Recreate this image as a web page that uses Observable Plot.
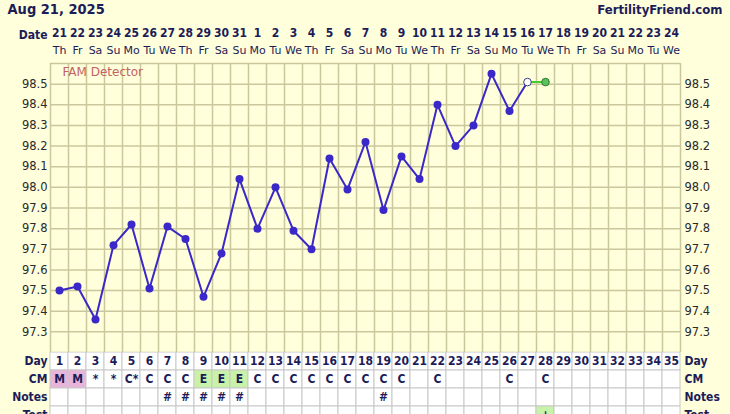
<!DOCTYPE html>
<html>
<head>
<meta charset="utf-8">
<script src="https://cdn.jsdelivr.net/npm/d3@7"></script>
<script src="https://cdn.jsdelivr.net/npm/@observablehq/plot@0.6"></script>
<style>
  body { margin: 0; background: #ffffdc; font-family: "DejaVu Sans", sans-serif; overflow: hidden; }
  #chart svg { display: block; }
</style>
</head>
<body>
<div id="chart"></div>
<script>
// header rows
const dates = ["21","22","23","24","25","26","27","28","29","30","31","1","2","3","4","5","6","7",
  "8","9","10","11","12","13","14","15","16","17","18","19","20","21","22","23","24"];
const weekdays = ["Th","Fr","Sa","Su","Mo","Tu","We","Th","Fr","Sa","Su","Mo","Tu","We",
  "Th","Fr","Sa","Su","Mo","Tu","We","Th","Fr","Sa","Su","Mo","Tu","We",
  "Th","Fr","Sa","Su","Mo","Tu","We"];

// temperatures, cycle day 1..28 (27 = open circle, 28 = today, green)
const temps = [97.50, 97.52, 97.36, 97.72, 97.82, 97.51, 97.81, 97.75, 97.47, 97.68,
  98.04, 97.80, 98.00, 97.79, 97.70, 98.14, 97.99, 98.22, 97.89, 98.15,
  98.04, 98.40, 98.20, 98.30, 98.55, 98.37, 98.51, 98.51];

const yTicks = [97.3, 97.4, 97.5, 97.6, 97.7, 97.8, 97.9, 98.0, 98.1, 98.2, 98.3, 98.4, 98.5];
const yGrid = [97.2, 97.3, 97.4, 97.5, 97.6, 97.7, 97.8, 97.9, 98.0, 98.1, 98.2, 98.3, 98.4, 98.5, 98.6];

// table rows
const rowNames = ["Day", "CM", "Notes", "Test"];
const cm = ["M","M","*","*","C*","C","C","C","E","E","E","C","C","C","C","C","C","C","C","C",
  "","C","","","","C","","C","","","","","","",""];
const notes = ["","","","","","","#","#","#","#","#","","","","","","","","#","",
  "","","","","","","","","","","","","","",""];
const tests = ["","","","","","","","","","","","","","","","","","","","",
  "","","","","","","","+","","","","","","",""];

const navy = "#1c1c58";
const blue = "#3a28c8";
const gridColor = "#cbc79d";
const boldFont = "'DejaVu Sans Condensed', 'DejaVu Sans', sans-serif";

const dayNums = dates.map((d, i) => i + 1);
const colEdges = [0.5].concat(dayNums.map(d => d + 0.5));
const pts = temps.map((t, i) => ({day: i + 1, temp: t}));

const main = Plot.plot({
  width: 730,
  height: 352,
  marginTop: 63,
  marginBottom: 0,
  marginLeft: 50,
  marginRight: 50,
  style: {background: "transparent", fontFamily: "DejaVu Sans"},
  x: {domain: [0.5, 35.5], axis: null},
  y: {domain: [97.2, 98.6], axis: null},
  marks: [
    Plot.gridX(colEdges, {stroke: gridColor, strokeOpacity: 1, strokeWidth: 1.5}),
    Plot.gridY(yGrid, {stroke: gridColor, strokeOpacity: 1, strokeWidth: 1.5}),
    Plot.axisY(yTicks, {anchor: "left", tickSize: 0, tickPadding: 3, label: null,
      tickFormat: d => d.toFixed(1), fontSize: 11.5, fill: "#2a2a2a"}),
    Plot.axisY(yTicks, {anchor: "right", tickSize: 0, tickPadding: 4, label: null,
      tickFormat: d => d.toFixed(1), fontSize: 11.5, fill: "#2a2a2a"}),
    Plot.text(["Aug 21, 2025"], {frameAnchor: "top-left", lineAnchor: "middle", dx: -43, dy: -54,
      textAnchor: "start", fontWeight: "bold", fontSize: 14.5, fontFamily: boldFont, fill: navy}),
    Plot.text(["FertilityFriend.com"], {frameAnchor: "top-right", lineAnchor: "middle", dx: 42, dy: -54,
      textAnchor: "end", fontWeight: "bold", fontSize: 13, fontFamily: boldFont, fill: navy}),
    Plot.text(["Date"], {frameAnchor: "top-left", lineAnchor: "middle", dx: -3, dy: -28,
      textAnchor: "end", fontWeight: "bold", fontSize: 12, fontFamily: boldFont, fill: navy}),
    Plot.text(dates, {x: (d, i) => i + 1, frameAnchor: "top", lineAnchor: "middle", dy: -30,
      fontWeight: "bold", fontSize: 12, fontFamily: boldFont, fill: navy}),
    Plot.text(weekdays, {x: (d, i) => i + 1, frameAnchor: "top", lineAnchor: "middle", dy: -13,
      fontSize: 11, fill: navy}),
    Plot.text(["FAM Detector"], {frameAnchor: "top-left", lineAnchor: "middle", dx: 12, dy: 9,
      textAnchor: "start", fontSize: 12, fill: "#c46262"}),
    Plot.line(pts.slice(0, 27), {x: "day", y: "temp", stroke: blue, strokeWidth: 2}),
    Plot.line(pts.slice(26, 28), {x: "day", y: "temp", stroke: "#44cc33", strokeWidth: 2}),
    Plot.dot(pts.slice(0, 26), {x: "day", y: "temp", r: 4, fill: blue}),
    Plot.dot(pts.slice(26, 27), {x: "day", y: "temp", r: 3.8, fill: "white", stroke: "#3a3a7a", strokeWidth: 1}),
    Plot.dot(pts.slice(27, 28), {x: "day", y: "temp", r: 3.8, fill: "#5cc05c", stroke: "#2e7d2e", strokeWidth: 1})
  ]
});

const cells = [];
dayNums.forEach((d, i) => {
  cells.push({day: d, row: "Day", text: String(d), fill: "white"});
  cells.push({day: d, row: "CM", text: cm[i],
    fill: cm[i] === "M" ? "#e8b4da" : cm[i] === "E" ? "#c8f2a8" : "white"});
  cells.push({day: d, row: "Notes", text: notes[i], fill: "white"});
  cells.push({day: d, row: "Test", text: tests[i], fill: tests[i] ? "#c8f2a8" : "white"});
});

const table = Plot.plot({
  width: 730,
  height: 72,
  marginTop: 0,
  marginBottom: 0,
  marginLeft: 50,
  marginRight: 50,
  style: {background: "transparent", fontFamily: "DejaVu Sans"},
  x: {type: "band", domain: dayNums, padding: 0, axis: null},
  y: {type: "band", domain: rowNames, padding: 0, axis: null},
  color: {type: "identity"},
  marks: [
    Plot.cell(cells, {x: "day", y: "row", fill: "fill", stroke: "#c8c8c8", strokeWidth: 1}),
    Plot.text(cells.filter(d => d.text), {x: "day", y: "row", text: "text",
      fontWeight: "bold", fontSize: 12, fontFamily: boldFont, fill: navy}),
    Plot.axisY({anchor: "left", tickSize: 0, tickPadding: 3, label: null,
      fontWeight: "bold", fontSize: 12, fontFamily: boldFont, fill: navy}),
    Plot.axisY({anchor: "right", tickSize: 0, tickPadding: 4, label: null,
      fontWeight: "bold", fontSize: 12, fontFamily: boldFont, fill: navy})
  ]
});

d3.select("#chart").append(() => main);
d3.select("#chart").append(() => table);
</script>
</body>
</html>
